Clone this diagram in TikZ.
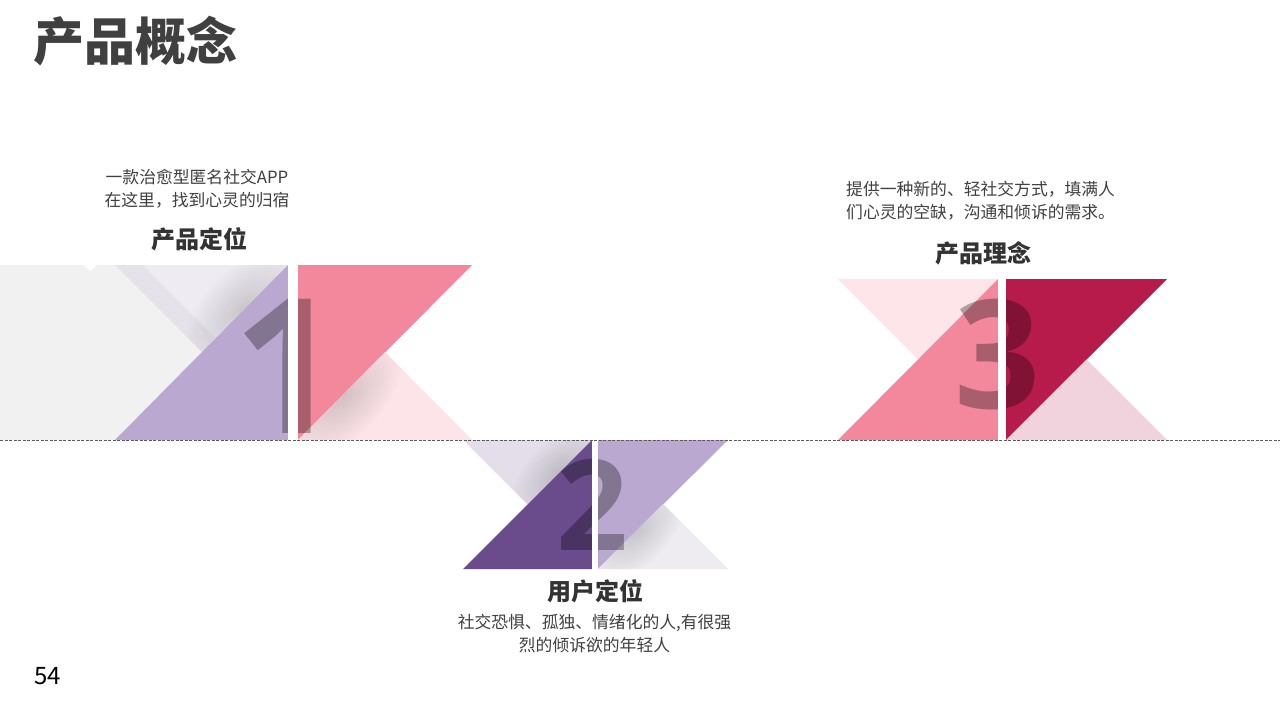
\documentclass[tikz,border=0pt]{standalone}
\usepackage{fontspec}
\setmainfont{Noto Sans CJK SC}
\newfontfamily\digitfont{Open Sans}
\usetikzlibrary{fadings}
\definecolor{txt}{HTML}{404040}
\definecolor{headc}{HTML}{333333}
\definecolor{bggray}{HTML}{F1F1F1}
\definecolor{band}{HTML}{E5E3E9}
\definecolor{lav}{HTML}{EEECF2}
\definecolor{purp}{HTML}{BBA8D0}
\definecolor{pinkc}{HTML}{F3889D}
\definecolor{pinkl}{HTML}{FCE4E8}
\definecolor{dpurp}{HTML}{6A4B8B}
\definecolor{lav2}{HTML}{E3DEE9}
\definecolor{lav3}{HTML}{EEEBF1}
\definecolor{pinkl3}{HTML}{FDE5E9}
\definecolor{crim}{HTML}{B71B4C}
\definecolor{rosel}{HTML}{F1D3DD}
\definecolor{dashc}{HTML}{5A5A5A}
\tikzfading[name=shadowfade, inner color=transparent!84, outer color=transparent!100]
\begin{document}
\begin{tikzpicture}[x=1pt,y=-1pt,
  body/.style={font=\fontsize{16.8}{23}\selectfont, text=txt, inner sep=0pt},
  head/.style={font=\fontsize{24}{24}\selectfont\bfseries, text=headc, inner sep=0pt},
  numeral/.style={text=black, text opacity=0.3, inner sep=0pt, anchor=base},
  gap/.style={fill=white}]
\useasboundingbox (0,0) rectangle (1280,720);
\fill[white] (0,0) rectangle (1280,720);

% ---------- group 1 ----------
\fill[bggray] (0,265) rectangle (288,440);
\fill[white] (84,265) -- (97,265) -- (90.5,271) -- cycle;
\fill[band] (115,265) -- (288,265) -- (201.5,351.5) -- cycle;
\fill[lav] (143,265) -- (288,265) -- (215.5,337.5) -- cycle;
\begin{scope}
  \clip (115,265) -- (288,265) -- (201.5,351.5) -- cycle;
  \begin{scope}[transform canvas={shift={(244,309)}, rotate=45, yscale=0.55}]
    \fill[black, path fading=shadowfade] (0,0) circle (75);
  \end{scope}
\end{scope}
\fill[purp] (115,440) -- (288,265) -- (288,440) -- cycle;
\fill[pinkc] (298,265) -- (472,265) -- (298,440) -- cycle;
\fill[pinkl] (385,352) -- (472,440) -- (298,440) -- cycle;
\begin{scope}
  \clip (385,352) -- (472,440) -- (298,440) -- cycle;
  \begin{scope}[transform canvas={shift={(342,396)}, rotate=45, yscale=0.55}]
    \fill[black, path fading=shadowfade] (0,0) circle (75);
  \end{scope}
\end{scope}
\node[numeral, font=\fontsize{188}{188}\digitfont\bfseries] (n1) at (287,433) {1};
\fill[gap] (288,262) rectangle (298,440);

% ---------- group 2 ----------
\fill[lav2] (463,440) -- (592,440) -- (527.5,504.5) -- cycle;
\begin{scope}
  \clip (463,440) -- (592,440) -- (527.5,504.5) -- cycle;
  \begin{scope}[transform canvas={shift={(558,474)}, rotate=45, yscale=0.55}]
    \fill[black, path fading=shadowfade] (0,0) circle (60);
  \end{scope}
\end{scope}
\fill[dpurp] (463,569) -- (592,440) -- (592,569) -- cycle;
\fill[purp] (598,440) -- (728,440) -- (598,569) -- cycle;
\fill[lav3] (663,504) -- (728,569) -- (598,569) -- cycle;
\begin{scope}
  \clip (663,504) -- (728,569) -- (598,569) -- cycle;
  \begin{scope}[transform canvas={shift={(636,531)}, rotate=45, yscale=0.55}]
    \fill[black, path fading=shadowfade] (0,0) circle (60);
  \end{scope}
\end{scope}
\node[numeral, font=\fontsize{126}{126}\digitfont\bfseries] (n2) at (592,550) {2};
\fill[gap] (592,440) rectangle (598,572);

% ---------- group 3 ----------
\fill[pinkl3] (838,279) -- (998,279) -- (918,359.5) -- cycle;
\fill[pinkc] (838,440) -- (998,279) -- (998,440) -- cycle;
\fill[crim] (1006,279) -- (1167,279) -- (1006,440) -- cycle;
\fill[rosel] (1086.5,359.5) -- (1167,440) -- (1006,440) -- cycle;
\node[numeral, font=\fontsize{151}{151}\digitfont\bfseries] (n3) at (998,408) {3};
\fill[gap] (998,276) rectangle (1006,440);

% ---------- baseline ----------
\coordinate (lineL) at (0,440.5);
\coordinate (lineR) at (1280,440.5);
\draw[dashc, line width=0.7pt, dash pattern=on 3pt off 1.5pt] (lineL) -- (lineR);

% ---------- texts ----------
\node[font=\fontsize{51}{51}\selectfont\bfseries, text=txt, inner sep=0pt] (title) at (136,41) {产品概念};
\node[body, align=center] (d1) at (197,189) {一款治愈型匿名社交APP\\在这里，找到心灵的归宿};
\node[head] (h1) at (199,239) {产品定位};
\node[body, align=left, anchor=west] (d3) at (846,201) {提供一种新的、轻社交方式，填满人\\们心灵的空缺，沟通和倾诉的需求。};
\node[head] (h3) at (983,253) {产品理念};
\node[head] (h2) at (595,591) {用户定位};
\node[body, align=center] (d2) at (594.5,633.5) {社交恐惧、孤独、情绪化的人,有很强\\烈的倾诉欲的年轻人};
\node[font=\fontsize{24}{24}\selectfont, text=black, inner sep=0pt] (pg) at (47.5,676.5) {54};
\end{tikzpicture}
\end{document}
